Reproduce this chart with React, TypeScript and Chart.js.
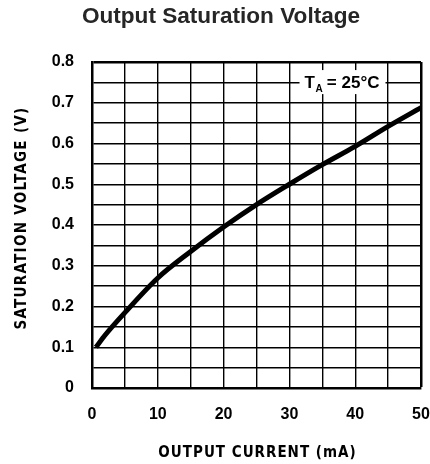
import React, { useEffect, useRef } from "react";
import { Chart, registerables } from "chart.js";

Chart.register(...registerables);

const titleText = "Output Saturation Voltage";
const xAxisTitle = "OUTPUT CURRENT (mA)";
const yAxisTitle = "SATURATION VOLTAGE (V)";
const annotationMain = "T";
const annotationSub = "A";
const annotationRest = " = 25°C";

const currentMA = [0.6, 2, 5, 10, 15, 20, 25, 30, 35, 40, 45, 50];
const satVoltage = [0.1, 0.13, 0.185, 0.27, 0.335, 0.395, 0.45, 0.5, 0.548, 0.593, 0.642, 0.688];

const xTickLabels = ["0", "10", "20", "30", "40", "50"];
const yTickLabels = ["0", "0.1", "0.2", "0.3", "0.4", "0.5", "0.6", "0.7", "0.8"];

const tickFamily = '"Liberation Sans", Arial, sans-serif';
const condensed = '"DejaVu Sans Condensed", "DejaVu Sans", sans-serif';

const textPlugin = {
  id: "textPlugin",
  afterDraw(chart: any) {
    const ctx = chart.ctx as CanvasRenderingContext2D;
    const area = chart.chartArea;
    const xs = chart.scales.x;
    const ys = chart.scales.y;
    ctx.save();
    // title
    ctx.fillStyle = "#262626";
    ctx.font = 'bold 22.6px "Liberation Sans", Arial, sans-serif';
    ctx.textAlign = "center";
    ctx.textBaseline = "alphabetic";
    ctx.fillText(titleText, 221, 23);

    // x axis title
    ctx.fillStyle = "#000";
    ctx.font = `bold 15px ${condensed}`;
    (ctx as any).letterSpacing = "1px";
    ctx.textAlign = "center";
    ctx.fillText(xAxisTitle, (area.left + area.right) / 2 + 1, 457);

    // y axis title
    (ctx as any).letterSpacing = "1.3px";
    ctx.save();
    ctx.translate(26, (area.top + area.bottom) / 2 - 7);
    ctx.rotate(-Math.PI / 2);
    ctx.fillText(yAxisTitle, 0, 0);
    ctx.restore();
    (ctx as any).letterSpacing = "0px";

    // annotation
    const ax = xs.getPixelForValue(32.3);
    const ay = ys.getPixelForValue(0.736);
    const mainFont = `bold 17px ${tickFamily}`;
    const subFont = `bold 10px ${tickFamily}`;
    ctx.font = mainFont;
    const wT = ctx.measureText(annotationMain).width;
    ctx.font = subFont;
    const wA = ctx.measureText(annotationSub).width;
    ctx.font = mainFont;
    const wR = ctx.measureText(annotationRest).width;
    const total = wT + wA + wR;
    ctx.fillStyle = "#fff";
    ctx.fillRect(ax - 5, ay - 18, total + 11, 24);
    ctx.fillStyle = "#000";
    ctx.textAlign = "left";
    ctx.font = mainFont;
    ctx.fillText(annotationMain, ax, ay);
    ctx.font = subFont;
    ctx.fillText(annotationSub, ax + wT + 0.5, ay + 4);
    ctx.font = mainFont;
    ctx.fillText(annotationRest, ax + wT + wA, ay);
    ctx.restore();
  },
};

export default function App() {
  const ref = useRef<HTMLCanvasElement | null>(null);
  useEffect(() => {
    if (!ref.current) return;
    const chart = new Chart(ref.current, {
      type: "line",
      data: {
        datasets: [
          {
            data: currentMA.map((x, i) => ({ x, y: satVoltage[i] })),
            borderColor: "#000",
            borderWidth: 5,
            pointRadius: 0,
            cubicInterpolationMode: "monotone",
            fill: false,
          },
        ],
      },
      options: {
        responsive: false,
        animation: false,
        layout: { padding: { top: 62, right: 9, left: 0, bottom: 0 } },
        plugins: { legend: { display: false }, tooltip: { enabled: false }, title: { display: false } },
        scales: {
          x: {
            type: "linear",
            min: 0,
            max: 50,
            afterFit: (s: any) => {
              s.height = 76;
              s.paddingLeft = 0;
              s.paddingRight = 0;
            },
            ticks: {
              stepSize: 5,
              autoSkip: false,
              maxRotation: 0,
              padding: 17,
              color: "#000",
              font: { family: tickFamily, size: 16, weight: "bold" },
              callback: (v: any) => {
                const n = Math.round(Number(v));
                return n % 10 === 0 ? xTickLabels[n / 10] : "";
              },
            },
            grid: {
              color: "#000",
              lineWidth: (c: any) => (c.tick && c.tick.value === 50 ? 2.5 : 1.4),
              drawTicks: false,
            },
            border: { display: true, color: "#000", width: 2.5 },
          },
          y: {
            min: 0,
            max: 0.8,
            afterFit: (s: any) => {
              s.width = 92;
              s.paddingTop = 0;
              s.paddingBottom = 0;
            },
            ticks: {
              stepSize: 0.05,
              autoSkip: false,
              padding: 18,
              color: "#000",
              font: { family: tickFamily, size: 16, weight: "bold" },
              callback: (v: any) => {
                const n = Math.round(Number(v) * 100);
                return n % 10 === 0 ? yTickLabels[n / 10] : "";
              },
            },
            grid: {
              color: "#000",
              lineWidth: (c: any) => (c.tick && Math.abs(c.tick.value - 0.8) < 1e-6 ? 2.5 : 1.4),
              drawTicks: false,
            },
            border: { display: true, color: "#000", width: 2.5 },
          },
        },
      },
      plugins: [textPlugin],
    });
    return () => chart.destroy();
  }, []);
  return (
    <div style={{ position: "absolute", left: 0, top: 0, width: 430, height: 464, background: "#fff" }}>
      <canvas ref={ref} width={430} height={464} style={{ display: "block" }} />
    </div>
  );
}
